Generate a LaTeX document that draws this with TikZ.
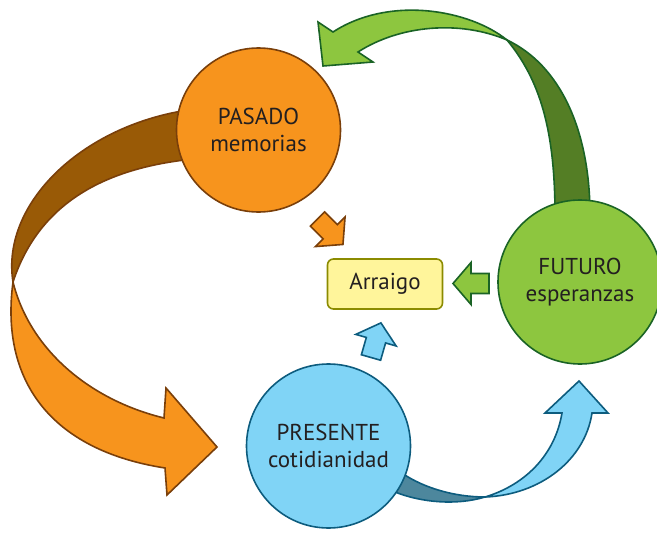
\documentclass[tikz,border=0pt]{standalone}
\usepackage{fontspec}
\setmainfont{PT Sans}
\usetikzlibrary{positioning}

\definecolor{naranja}{HTML}{F7941D}
\definecolor{naranjaborde}{HTML}{7A3F0A}
\definecolor{naranjaosc}{HTML}{995A06}
\definecolor{verde}{HTML}{8DC63F}
\definecolor{verdeborde}{HTML}{1A6325}
\definecolor{verdeosc}{HTML}{547E25}
\definecolor{celeste}{HTML}{80D4F6}
\definecolor{celesteborde}{HTML}{0D5C7E}
\definecolor{celesteosc}{HTML}{4D879D}
\definecolor{amarillo}{HTML}{FFF59B}
\definecolor{amarilloborde}{HTML}{8B8B00}
\definecolor{tinta}{HTML}{231F20}

\tikzset{
  tiempo/.style={circle, draw, line width=1.6pt, minimum size=164pt, inner sep=0pt,
    align=center, text=tinta, font=\fontsize{23}{27}\selectfont},
  cinta/.style={line width=1.6pt, line join=miter},
  flechita/.pic={\draw[pic actions] (0,-10) -- (18,-10) -- (18,-21) -- (36,0)
    -- (18,21) -- (18,10) -- (0,10) -- cycle;},
}

\begin{document}
\begin{tikzpicture}[x=1pt, y=-1pt]
    \useasboundingbox (0,0) rectangle (657,533);

    % pasado -> presente
    \fill[naranjaosc, draw=naranjaborde, cinta] (205,108) .. controls (90,118) and (0,200) .. (13,282)
        .. controls (40,200) and (110,165) .. (205,158) -- cycle;
    \fill[naranja, draw=naranjaborde, cinta] (13,282) .. controls (0,380) and (50,450) .. (165,468)
        -- (167,495) -- (217,447) -- (166,388) -- (164,418)
        .. controls (90,400) and (30,350) .. (13,282) -- cycle;

    % futuro -> pasado
    \fill[verdeosc, draw=verdeborde, cinta] (507,40) .. controls (560,65) and (590,130) .. (590,215)
        -- (555,215) .. controls (555,130) and (540,80) .. (507,40) -- cycle;
    \fill[verde, draw=verdeborde, cinta] (507,40) .. controls (470,10) and (390,-5) .. (333,32)
        -- (318,22) -- (323,66) -- (373,62) -- (358,52)
        .. controls (400,25) and (460,20) .. (507,40) -- cycle;

    % presente -> futuro
    \fill[celesteosc, draw=celesteborde, cinta] (395,468) .. controls (420,488) and (455,497) .. (485,497)
        .. controls (455,506) and (420,502) .. (395,492) -- cycle;
    \fill[celeste, draw=celesteborde, cinta] (485,497) .. controls (540,495) and (585,460) .. (592,413)
        -- (608,413) -- (579,381) -- (545,413) -- (562,413)
        .. controls (555,455) and (525,485) .. (485,497) -- cycle;

    \node[tiempo, fill=naranja, draw=naranjaborde] (pasado) at (258.5,130) {PASADO\\memorias};
    \node[tiempo, fill=verde, draw=verdeborde] (futuro) at (580,282) {FUTURO\\esperanzas};
    \node[tiempo, fill=celeste, draw=celesteborde] (presente) at (328.5,446) {PRESENTE\\cotidianidad};
    \node[draw=amarilloborde, fill=amarillo, line width=1.6pt, rounded corners=6pt,
        minimum width=115pt, minimum height=50pt, text=tinta,
        font=\fontsize{23}{27}\selectfont] (arraigo) at (385,284) {Arraigo};

    \pic[fill=naranja, draw=naranjaborde, cinta, rotate=-45] at (317.5,219) {flechita};
    \pic[fill=verde, draw=verdeborde, cinta, rotate=180] at (489,283.5) {flechita};
    \pic[fill=celeste, draw=celesteborde, cinta, rotate=74] at (371,357.5) {flechita};
\end{tikzpicture}
\end{document}
